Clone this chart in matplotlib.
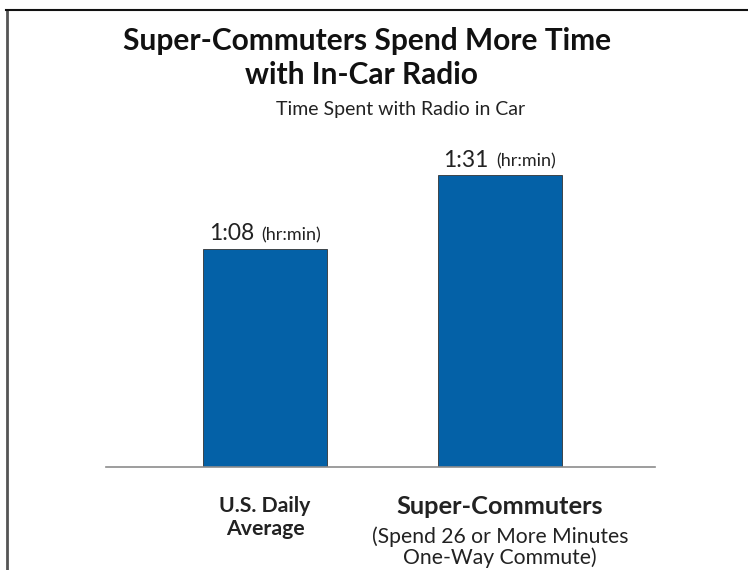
import matplotlib
matplotlib.use("Agg")
import matplotlib.pyplot as plt
from matplotlib.lines import Line2D

# data
categories = ["U.S. Daily\nAverage", "Super-Commuters"]
category_notes = ["", "(Spend 26 or More Minutes\nOne-Way Commute)"]
minutes = [68, 91]
value_labels = ["1:08", "1:31"]
unit_label = "(hr:min)"

plt.rcParams["font.family"] = ["Lato", "DejaVu Sans"]

W, H = 748, 570
fig = plt.figure(figsize=(W / 100, H / 100), dpi=100)
fig.patch.set_facecolor("white")

# axes placed to match the pixel layout
ax = fig.add_axes([106 / W, 103 / H, 549 / W, 369 / H])
x = [0, 1]
ax.bar(x, minutes, width=0.528, color="#0461a7", edgecolor="#333333", linewidth=0.6)
ax.set_xlim(-0.677, 1.66)
ax.set_ylim(0, 115)

for side in ["top", "right", "left"]:
    ax.spines[side].set_visible(False)
ax.spines["bottom"].set_color("#8c8c8c")
ax.spines["bottom"].set_linewidth(1.2)
ax.set_xticks([])
ax.set_yticks([])

for xi, v, lab in zip(x, minutes, value_labels):
    ax.annotate(lab, xy=(xi, v), xytext=(-8, 6), textcoords="offset points",
                ha="right", va="baseline", fontsize=16.5, color="#222222")
    ax.annotate(unit_label, xy=(xi, v), xytext=(-3, 6), textcoords="offset points",
                ha="left", va="baseline", fontsize=13, color="#222222")

# category labels under the bars
ax.annotate(categories[0], xy=(x[0], 0), xycoords=("data", "axes fraction"),
            xytext=(0, -21), textcoords="offset points", ha="center", va="top",
            fontsize=15.3, fontweight="bold", color="#222222", linespacing=1.2)
ax.annotate(categories[1], xy=(x[1], 0), xycoords=("data", "axes fraction"),
            xytext=(0, -20), textcoords="offset points", ha="center", va="top",
            fontsize=18.3, fontweight="bold", color="#222222")
ax.annotate(category_notes[1], xy=(x[1], 0), xycoords=("data", "axes fraction"),
            xytext=(0, -43), textcoords="offset points", ha="center", va="top",
            fontsize=15.2, color="#222222", linespacing=1.0)

# titles
fig.text(367 / W, 1 - 27 / H, "Super-Commuters Spend More Time", ha="center", va="top",
         fontsize=21.5, fontweight="bold", color="#111111")
fig.text(361 / W, 1 - 61 / H, "with In-Car Radio", ha="center", va="top",
         fontsize=21.5, fontweight="bold", color="#111111")
fig.text(401 / W, 1 - 101 / H, "Time Spent with Radio in Car", ha="center", va="top",
         fontsize=14, color="#222222")

# frame lines (top and left only)
fig.add_artist(Line2D([6.5 / W, 6.5 / W], [0, 1 - 10 / H], transform=fig.transFigure,
                      color="#555555", linewidth=2))
fig.add_artist(Line2D([6 / W, 1], [1 - 10 / H, 1 - 10 / H], transform=fig.transFigure,
                      color="#111111", linewidth=1.5))

fig.savefig("out.png", dpi=100, facecolor="white")
